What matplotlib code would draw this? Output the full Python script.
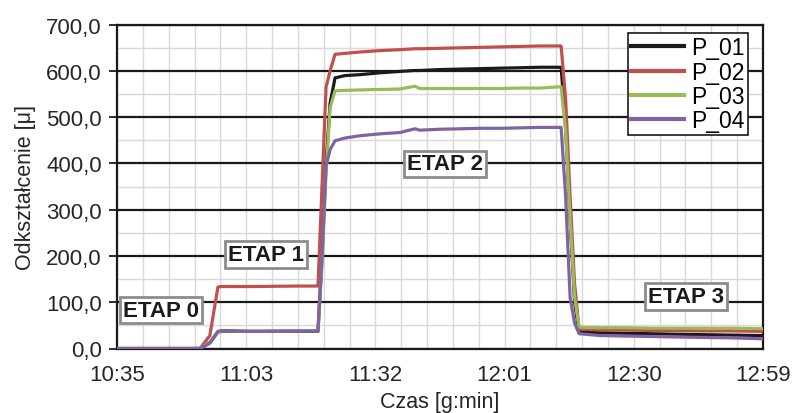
import matplotlib
matplotlib.use("Agg")
import matplotlib.pyplot as plt
from matplotlib.ticker import MultipleLocator, FixedLocator
import numpy as np

plt.rcParams['font.family'] = ['Liberation Sans', 'DejaVu Sans']

# time in minutes since 10:35
t = [0, 18.5, 20.7, 22.5, 23.4, 30, 40, 44.8, 45.7, 46.6, 47.5, 48.6, 50.8, 54.2,
     58.6, 63.1, 66.4, 67.5, 72.0, 76.5, 80.9, 85.4, 89.8, 94.3, 99.0, 100.0,
     101.0, 102.0, 103.0, 107.7, 113, 118.8, 124, 130, 137, 144]

p01 = [0, 0, 12, 36, 37, 37, 37, 37, 200, 400, 530, 585, 590, 592,
       596, 599, 601, 601, 603, 604, 605, 606, 607, 608, 608, 480,
       280, 100, 36, 34, 33, 32, 31, 30, 29, 28]
p02 = [0, 0, 28, 133, 134, 134, 135, 135, 350, 565, 600, 636, 638, 641,
       644, 646, 648, 648, 649, 650, 651, 652, 653, 654, 654, 540,
       330, 140, 42, 40, 40, 39, 39, 38, 38, 37]
p03 = [0, 0, 14, 36, 38, 37, 38, 38, 180, 380, 520, 557, 558, 559,
       560, 561, 567, 562, 562, 562, 562, 562, 563, 563, 566, 470,
       280, 110, 46, 45, 45, 44, 44, 44, 44, 43]
p04 = [0, 0, 12, 37, 39, 37, 38, 38, 200, 395, 430, 449, 455, 460,
       464, 467, 475, 472, 474, 475, 476, 476, 477, 478, 478, 330,
       110, 55, 32, 28, 27, 26, 25, 24, 23, 21]

series_names = ['P_01', 'P_02', 'P_03', 'P_04']
series_colors = ['#1a1a1a', '#c0504d', '#9bbb59', '#8064a2']

xtick_pos = [0, 28.8, 57.6, 86.4, 115.2, 144]
xtick_labels = ['10:35', '11:03', '11:32', '12:01', '12:30', '12:59']

stage_labels = ['ETAP 0', 'ETAP 1', 'ETAP 2', 'ETAP 3']
stage_x = [9.8, 33.2, 73.1, 126.8]
stage_y = [83, 204, 399, 113]

fig = plt.figure(figsize=(7.93, 4.14), dpi=100)
ax = fig.add_axes([117/793, 1-349.5/414, 646/793, 323.8/414])

ax.set_xlim(0, 144)
ax.set_ylim(0, 700)

ax.yaxis.set_major_locator(MultipleLocator(100))
ax.yaxis.set_minor_locator(MultipleLocator(50))
ax.xaxis.set_major_locator(FixedLocator(xtick_pos))
ax.xaxis.set_minor_locator(FixedLocator(list(np.arange(0, 144.01, 144/25))))
ax.grid(which='minor', axis='both', color='#d9d9d9', lw=1.0, zorder=0)
ax.grid(which='major', axis='y', color='#1a1a1a', lw=1.6, zorder=1)
ax.grid(which='major', axis='x', color='#d9d9d9', lw=1.0, zorder=0)
ax.set_axisbelow(True)

for name, vals, c in zip(series_names, [p01, p02, p03, p04], series_colors):
    ax.plot(t, vals, color=c, lw=2.3, label=name, zorder=3)

txtc = '#262626'
ax.set_xticks(xtick_pos)
ax.set_xticklabels(xtick_labels)
ax.set_yticklabels([f"{v:.1f}".replace('.', ',') for v in ax.get_yticks()])
ax.tick_params(axis='y', which='major', length=6, width=1.3, color='#1a1a1a',
               labelsize=16, pad=5, labelcolor=txtc)
ax.tick_params(axis='y', which='minor', length=0)
ax.tick_params(axis='x', which='both', length=0, labelsize=16, pad=11,
               labelcolor=txtc)

for s in ax.spines.values():
    s.set_color('#1a1a1a')
    s.set_linewidth(1.6)

ax.set_ylabel('Odkształcenie [μ]', fontsize=15.5, color=txtc, labelpad=7)
ax.set_xlabel('Czas [g:min]', fontsize=15.5, color=txtc, labelpad=4.5)

for lab, x, y in zip(stage_labels, stage_x, stage_y):
    ax.text(x, y, lab, ha='center', va='center', fontsize=16, fontweight='bold',
            color='#1a1a1a', zorder=5,
            bbox=dict(boxstyle='square,pad=0.13', fc='white', ec='#8c8c8c', lw=2.0))

leg = ax.legend(loc='upper right', bbox_to_anchor=(748/793, 1-34/414),
                bbox_transform=fig.transFigure, fontsize=16.5, frameon=True,
                fancybox=False, edgecolor='#1a1a1a', framealpha=1,
                handlelength=2.3, handletextpad=0.3, labelspacing=0.05,
                borderpad=0.15, borderaxespad=0)
leg.get_frame().set_linewidth(1.2)
for ln in leg.get_lines():
    ln.set_linewidth(3.0)
leg.set_zorder(6)

fig.savefig('out.png', dpi=100)
